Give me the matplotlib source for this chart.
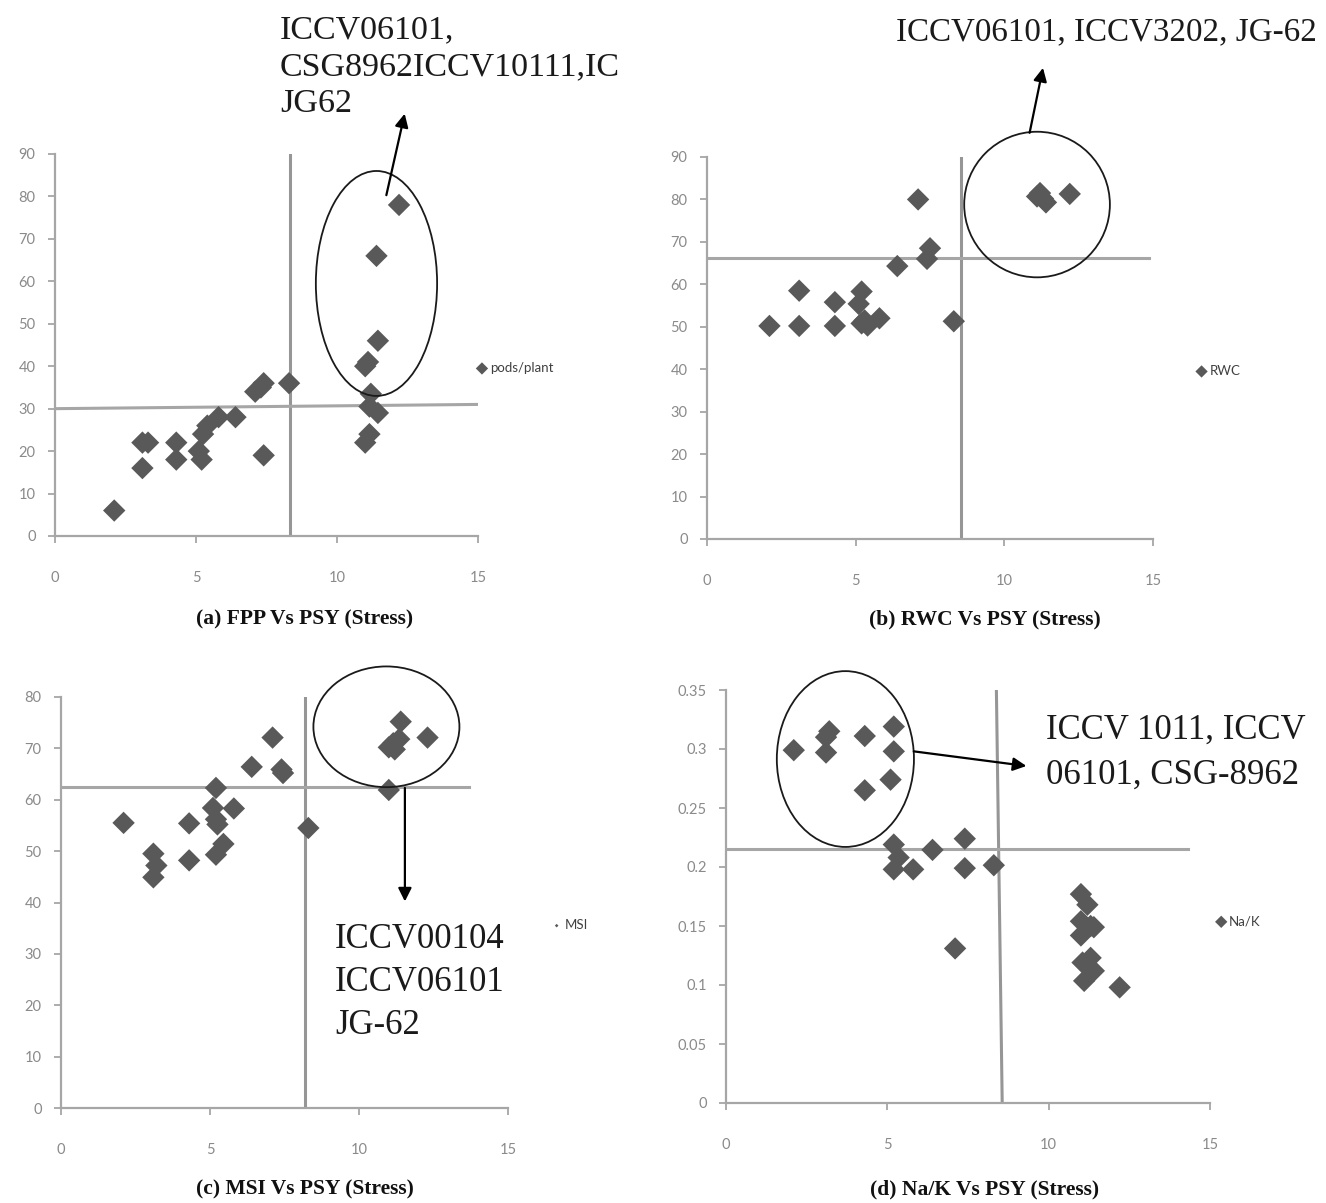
import matplotlib
matplotlib.use("Agg")
import matplotlib.pyplot as plt
from matplotlib.patches import Ellipse
from matplotlib.ticker import FuncFormatter

# ---------------- data (PSY under stress on x) ----------------
psy_a = [2.1, 3.1, 3.3, 3.1, 4.3, 4.3, 5.1, 5.2, 5.25, 5.4, 5.8, 6.4, 7.1, 7.3, 7.4,
         7.4, 8.3, 11.0, 11.1, 11.4, 12.2, 11.45, 11.2, 11.15, 11.45, 11.15, 11.0]
fpp = [6, 22, 22, 16, 22, 18, 20, 18, 24, 26, 28, 28, 34, 35, 36,
       19, 36, 40, 41, 66, 78, 46, 33.5, 30.5, 29, 24, 22]

psy_b = [2.1, 3.1, 3.1, 4.3, 4.3, 5.2, 5.1, 5.2, 5.4, 5.3, 5.8, 6.4, 7.1, 7.5,
         7.4, 8.3, 11.1, 11.2, 11.4, 11.3, 12.2]
rwc = [50.2, 50.2, 58.5, 50.2, 55.8, 58.3, 55.4, 50.8, 50.3, 51.5, 52, 64.3, 80, 68.5,
       66, 51.3, 80.7, 81.5, 79.3, 80.2, 81.3]

psy_c = [2.1, 3.1, 3.2, 3.1, 4.3, 4.3, 5.2, 5.1, 5.2, 5.25, 5.2, 5.45, 5.8, 6.4,
         7.1, 7.4, 7.45, 8.3, 11.0, 11.0, 11.15, 11.35, 11.2, 11.4, 12.3]
msi = [55.5, 49.5, 47.2, 44.9, 55.4, 48.2, 62.3, 58.4, 56.2, 55.2, 49.3, 51.4, 58.3, 66.4,
       72.1, 65.9, 65.2, 54.5, 61.9, 70.2, 71, 71.8, 69.8, 75.2, 72.1]

psy_d = [2.1, 3.1, 3.2, 3.1, 4.3, 4.3, 5.2, 5.2, 5.1, 5.2, 5.35, 5.2, 5.8, 6.4, 7.4,
         7.4, 7.1, 8.3, 11.0, 11.2, 11.0, 11.3, 11.4, 11.0, 11.3, 11.05, 11.4, 11.1, 12.2]
nak = [0.299, 0.297, 0.315, 0.31, 0.311, 0.265, 0.319, 0.298, 0.274, 0.219, 0.208, 0.198,
       0.198, 0.2145, 0.224, 0.199, 0.131, 0.2015, 0.177, 0.168, 0.154, 0.150, 0.149,
       0.142, 0.123, 0.119, 0.112, 0.1035, 0.098]

legend_names = ["pods/plant", "RWC", "MSI", "Na/K"]
captions = ["(a) FPP Vs PSY (Stress)", "(b) RWC Vs PSY (Stress)",
            "(c) MSI Vs PSY (Stress)", "(d) Na/K Vs PSY (Stress)"]
note_a = ["ICCV06101,", "CSG8962ICCV10111,IC", "JG62"]
note_b = ["ICCV06101, ICCV3202, JG-62"]
note_c = ["ICCV00104", "ICCV06101", "JG-62"]
note_d = ["ICCV 1011, ICCV", "06101, CSG-8962"]

W, H = 1326, 1203
fig = plt.figure(figsize=(W / 100, H / 100), dpi=100)

def px_axes(x0, x1, ytop, ybot):
    return fig.add_axes([x0 / W, 1 - ybot / H, (x1 - x0) / W, (ybot - ytop) / H])

def fx(x):
    return x / W

def fy(y):
    return 1 - y / H

GRID = "#a6a6a6"
PT = "#595959"
SERIF = ["Liberation Serif", "DejaVu Serif"]

def setup(ax, ymax, ystep, fmt=None):
    ax.set_xlim(0, 15)
    ax.set_ylim(0, ymax)
    ax.set_xticks([0, 5, 10, 15])
    n = int(round(ymax / ystep))
    ax.set_yticks([i * ystep for i in range(n + 1)])
    if fmt:
        ax.yaxis.set_major_formatter(FuncFormatter(fmt))
    for s in ["top", "right"]:
        ax.spines[s].set_visible(False)
    for s in ["left", "bottom"]:
        ax.spines[s].set_color(GRID)
        ax.spines[s].set_linewidth(1.6)
    ax.tick_params(axis="both", direction="out", length=5, width=1.3, color=GRID,
                   labelcolor="#8a8a8a", labelsize=10.5)
    ax.tick_params(axis="x", pad=20)
    ax.tick_params(axis="y", pad=9)
    for lab in ax.get_xticklabels() + ax.get_yticklabels():
        lab.set_fontfamily(["Lato", "DejaVu Sans"])
    ax.patch.set_alpha(0)

def scatter(ax, x, y, name, anchor, mscale=0.55):
    ax.scatter(x, y, marker="D", s=130, c=PT, edgecolors="none", zorder=3,
               clip_on=False, label=name)
    leg = ax.legend(loc="center left", bbox_to_anchor=anchor, frameon=False,
                    borderaxespad=0, borderpad=0, handlelength=0.6,
                    handletextpad=0.3, markerscale=mscale, scatterpoints=1,
                    prop={"family": ["Lato", "DejaVu Sans"], "size": 9.5})
    for t in leg.get_texts():
        t.set_color("#404040")

def ring(ax, cx, cy, w, h):
    ax.add_patch(Ellipse((cx, cy), w, h, fill=False, edgecolor="#1a1a1a", lw=1.3,
                         clip_on=False, zorder=4))

def arrow(ax, start, tip):
    ax.annotate("", xy=tip, xytext=start, annotation_clip=False,
                arrowprops=dict(arrowstyle="-|>", color="black", lw=1.6,
                                mutation_scale=20, shrinkA=0, shrinkB=0), zorder=5)

def note(lines, x, y0, step, size=24.5):
    for i, s in enumerate(lines):
        fig.text(fx(x), fy(y0 + i * step), s, ha="left", va="center",
                 family=SERIF, fontsize=size, color="#1a1a1a")

# ---------------- (a) ----------------
ax = px_axes(55, 478, 154, 536)
setup(ax, 90, 10)
ax.plot([8.33, 8.33], [0, 90], color="#969696", lw=2.2, zorder=2)
ax.plot([0, 15], [30, 31], color=GRID, lw=2.2, zorder=2)
scatter(ax, psy_a, fpp, legend_names[0], (1.0, 0.44))
ring(ax, 11.4, 59.5, 4.3, 53)
arrow(ax, (11.75, 80.3), (12.4, 99.5))
note(note_a, 280, 30, 37)

# ---------------- (b) ----------------
ax = px_axes(707, 1153, 157, 539)
setup(ax, 90, 10)
ax.plot([8.55, 8.55], [0, 90], color="#969696", lw=2.2, zorder=2)
ax.plot([0, 14.85], [66.3, 66.3], color=GRID, lw=2.2, zorder=2)
scatter(ax, psy_b, rwc, legend_names[1], (1.1, 0.44))
ring(ax, 11.1, 78.8, 4.9, 34.3)
arrow(ax, (10.85, 95.7), (11.3, 111))
note(note_b, 896, 32, 37, size=23.8)

# ---------------- (c) ----------------
ax = px_axes(61, 508, 697, 1108)
setup(ax, 80, 10)
ax.plot([8.2, 8.2], [0, 80], color="#969696", lw=2.2, zorder=2)
ax.plot([0, 13.7], [62.4, 62.4], color=GRID, lw=2.2, zorder=2)
scatter(ax, psy_c, msi, legend_names[2], (1.1, 0.445), mscale=0.16)
ring(ax, 10.92, 74.2, 4.9, 23.5)
arrow(ax, (11.54, 62.3), (11.54, 40.2))
note(note_c, 335, 940, 42.5, size=25)

# ---------------- (d) ----------------
ax = px_axes(726, 1210, 690, 1103)
setup(ax, 0.35, 0.05, fmt=lambda v, p: "%g" % round(v, 2))
ax.plot([8.38, 8.56], [0.35, 0.0], color="#969696", lw=2.2, zorder=2)
ax.plot([0, 14.33], [0.2156, 0.2156], color=GRID, lw=2.2, zorder=2)
scatter(ax, psy_d, nak, legend_names[3], (1.015, 0.44))
ring(ax, 3.7, 0.2915, 4.25, 0.149)
arrow(ax, (5.82, 0.298), (9.31, 0.2856))
note(note_d, 1046, 730, 45, size=25)

# ---------------- captions ----------------
cap_pos = [(305, 619), (985, 619), (305, 1189), (985, 1189)]
for txt, (cx, cy) in zip(captions, cap_pos):
    fig.text(fx(cx), fy(cy), txt, ha="center", va="center", family=SERIF,
             fontweight="bold", fontsize=15.5, color="#111111")

fig.savefig("out.png", dpi=100, facecolor="white")
